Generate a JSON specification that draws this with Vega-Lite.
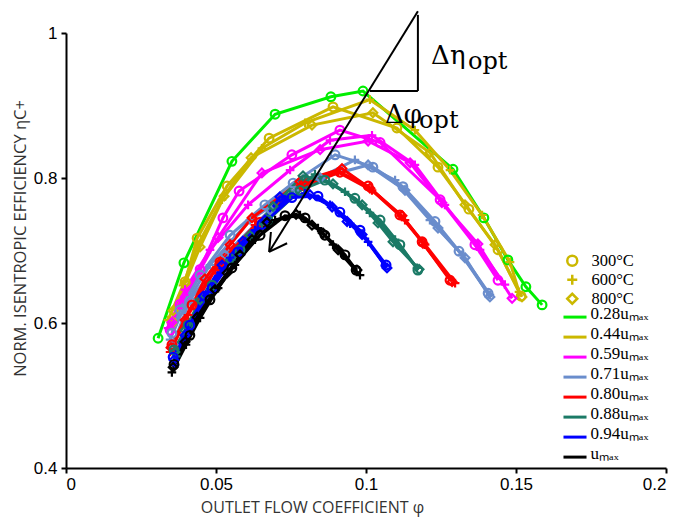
{
  "$schema": "https://vega.github.io/schema/vega-lite/v6.json",
  "width": 600,
  "height": 435,
  "autosize": {"type": "none"},
  "padding": {"left": 66, "top": 33, "right": 16, "bottom": 50},
  "background": "white",
  "config": {
    "view": {"stroke": null},
    "axis": {
      "grid": false,
      "domainColor": "black",
      "domainWidth": 2,
      "tickColor": "black",
      "tickWidth": 2,
      "tickSize": 5,
      "labelFont": "Liberation Sans",
      "labelFontSize": 17,
      "labelColor": "black",
      "titleFont": "Open Sans",
      "titleFontSize": 15,
      "titleFontWeight": "normal",
      "titleColor": "#333333"
    }
  },
  "datasets": {
    "pts": [
      {"s":"0.28uₘₐₓ","t":"300°C","x":0.0307,"y":0.579},{"s":"0.28uₘₐₓ","t":"300°C","x":0.0393,"y":0.683},{"s":"0.28uₘₐₓ","t":"300°C","x":0.0553,"y":0.823},{"s":"0.28uₘₐₓ","t":"300°C","x":0.0697,"y":0.888},{"s":"0.28uₘₐₓ","t":"300°C","x":0.0883,"y":0.912},{"s":"0.28uₘₐₓ","t":"300°C","x":0.099,"y":0.92},{"s":"0.28uₘₐₓ","t":"300°C","x":0.129,"y":0.812},{"s":"0.28uₘₐₓ","t":"300°C","x":0.1393,"y":0.745},{"s":"0.28uₘₐₓ","t":"300°C","x":0.1473,"y":0.687},{"s":"0.28uₘₐₓ","t":"300°C","x":0.1533,"y":0.65},{"s":"0.28uₘₐₓ","t":"300°C","x":0.1587,"y":0.625},

      {"s":"0.44uₘₐₓ","t":"300°C","x":0.0353,"y":0.601},{"s":"0.44uₘₐₓ","t":"300°C","x":0.0397,"y":0.657},{"s":"0.44uₘₐₓ","t":"300°C","x":0.0437,"y":0.717},{"s":"0.44uₘₐₓ","t":"300°C","x":0.0537,"y":0.789},{"s":"0.44uₘₐₓ","t":"300°C","x":0.0677,"y":0.855},{"s":"0.44uₘₐₓ","t":"300°C","x":0.089,"y":0.898},{"s":"0.44uₘₐₓ","t":"300°C","x":0.1103,"y":0.869},{"s":"0.44uₘₐₓ","t":"300°C","x":0.124,"y":0.815},{"s":"0.44uₘₐₓ","t":"300°C","x":0.1343,"y":0.757},{"s":"0.44uₘₐₓ","t":"300°C","x":0.144,"y":0.701},{"s":"0.44uₘₐₓ","t":"300°C","x":0.1517,"y":0.637},
      {"s":"0.44uₘₐₓ","t":"600°C","x":0.034,"y":0.604},{"s":"0.44uₘₐₓ","t":"600°C","x":0.039,"y":0.652},{"s":"0.44uₘₐₓ","t":"600°C","x":0.044,"y":0.708},{"s":"0.44uₘₐₓ","t":"600°C","x":0.052,"y":0.77},{"s":"0.44uₘₐₓ","t":"600°C","x":0.0653,"y":0.841},{"s":"0.44uₘₐₓ","t":"600°C","x":0.0797,"y":0.876},{"s":"0.44uₘₐₓ","t":"600°C","x":0.1013,"y":0.908},{"s":"0.44uₘₐₓ","t":"600°C","x":0.1163,"y":0.866},{"s":"0.44uₘₐₓ","t":"600°C","x":0.128,"y":0.811},{"s":"0.44uₘₐₓ","t":"600°C","x":0.1387,"y":0.749},{"s":"0.44uₘₐₓ","t":"600°C","x":0.148,"y":0.684},{"s":"0.44uₘₐₓ","t":"600°C","x":0.151,"y":0.643},
      {"s":"0.44uₘₐₓ","t":"800°C","x":0.0357,"y":0.617},{"s":"0.44uₘₐₓ","t":"800°C","x":0.0397,"y":0.655},{"s":"0.44uₘₐₓ","t":"800°C","x":0.0447,"y":0.705},{"s":"0.44uₘₐₓ","t":"800°C","x":0.0527,"y":0.775},{"s":"0.44uₘₐₓ","t":"800°C","x":0.0617,"y":0.828},{"s":"0.44uₘₐₓ","t":"800°C","x":0.082,"y":0.873},{"s":"0.44uₘₐₓ","t":"800°C","x":0.1023,"y":0.89},{"s":"0.44uₘₐₓ","t":"800°C","x":0.1213,"y":0.835},{"s":"0.44uₘₐₓ","t":"800°C","x":0.133,"y":0.763},{"s":"0.44uₘₐₓ","t":"800°C","x":0.143,"y":0.708},{"s":"0.44uₘₐₓ","t":"800°C","x":0.152,"y":0.636},

      {"s":"0.59uₘₐₓ","t":"300°C","x":0.0347,"y":0.59},{"s":"0.59uₘₐₓ","t":"300°C","x":0.038,"y":0.626},{"s":"0.59uₘₐₓ","t":"300°C","x":0.0447,"y":0.674},{"s":"0.59uₘₐₓ","t":"300°C","x":0.0523,"y":0.745},{"s":"0.59uₘₐₓ","t":"300°C","x":0.0577,"y":0.782},{"s":"0.59uₘₐₓ","t":"300°C","x":0.0753,"y":0.832},{"s":"0.59uₘₐₓ","t":"300°C","x":0.0913,"y":0.866},{"s":"0.59uₘₐₓ","t":"300°C","x":0.1047,"y":0.849},{"s":"0.59uₘₐₓ","t":"300°C","x":0.1247,"y":0.77},{"s":"0.59uₘₐₓ","t":"300°C","x":0.1363,"y":0.708},{"s":"0.59uₘₐₓ","t":"300°C","x":0.144,"y":0.659},
      {"s":"0.59uₘₐₓ","t":"600°C","x":0.034,"y":0.593},{"s":"0.59uₘₐₓ","t":"600°C","x":0.0397,"y":0.646},{"s":"0.59uₘₐₓ","t":"600°C","x":0.048,"y":0.701},{"s":"0.59uₘₐₓ","t":"600°C","x":0.0607,"y":0.763},{"s":"0.59uₘₐₓ","t":"600°C","x":0.0747,"y":0.811},{"s":"0.59uₘₐₓ","t":"600°C","x":0.088,"y":0.852},{"s":"0.59uₘₐₓ","t":"600°C","x":0.102,"y":0.859},{"s":"0.59uₘₐₓ","t":"600°C","x":0.1163,"y":0.818},{"s":"0.59uₘₐₓ","t":"600°C","x":0.1263,"y":0.763},{"s":"0.59uₘₐₓ","t":"600°C","x":0.138,"y":0.701},{"s":"0.59uₘₐₓ","t":"600°C","x":0.1463,"y":0.653},
      {"s":"0.59uₘₐₓ","t":"800°C","x":0.0353,"y":0.601},{"s":"0.59uₘₐₓ","t":"800°C","x":0.0397,"y":0.636},{"s":"0.59uₘₐₓ","t":"800°C","x":0.0507,"y":0.718},{"s":"0.59uₘₐₓ","t":"800°C","x":0.0653,"y":0.807},{"s":"0.59uₘₐₓ","t":"800°C","x":0.0847,"y":0.839},{"s":"0.59uₘₐₓ","t":"800°C","x":0.1007,"y":0.851},{"s":"0.59uₘₐₓ","t":"800°C","x":0.1147,"y":0.821},{"s":"0.59uₘₐₓ","t":"800°C","x":0.1253,"y":0.766},{"s":"0.59uₘₐₓ","t":"800°C","x":0.1373,"y":0.709},{"s":"0.59uₘₐₓ","t":"800°C","x":0.1487,"y":0.634},

      {"s":"0.71uₘₐₓ","t":"300°C","x":0.0353,"y":0.586},{"s":"0.71uₘₐₓ","t":"300°C","x":0.038,"y":0.618},{"s":"0.71uₘₐₓ","t":"300°C","x":0.0447,"y":0.666},{"s":"0.71uₘₐₓ","t":"300°C","x":0.0547,"y":0.721},{"s":"0.71uₘₐₓ","t":"300°C","x":0.0663,"y":0.763},{"s":"0.71uₘₐₓ","t":"300°C","x":0.0757,"y":0.793},{"s":"0.71uₘₐₓ","t":"300°C","x":0.0897,"y":0.832},{"s":"0.71uₘₐₓ","t":"300°C","x":0.1023,"y":0.815},{"s":"0.71uₘₐₓ","t":"300°C","x":0.1123,"y":0.788},{"s":"0.71uₘₐₓ","t":"300°C","x":0.123,"y":0.74},{"s":"0.71uₘₐₓ","t":"300°C","x":0.131,"y":0.699},{"s":"0.71uₘₐₓ","t":"300°C","x":0.1407,"y":0.641},
      {"s":"0.71uₘₐₓ","t":"600°C","x":0.0347,"y":0.577},{"s":"0.71uₘₐₓ","t":"600°C","x":0.0397,"y":0.625},{"s":"0.71uₘₐₓ","t":"600°C","x":0.048,"y":0.68},{"s":"0.71uₘₐₓ","t":"600°C","x":0.0613,"y":0.742},{"s":"0.71uₘₐₓ","t":"600°C","x":0.0763,"y":0.783},{"s":"0.71uₘₐₓ","t":"600°C","x":0.0963,"y":0.825},{"s":"0.71uₘₐₓ","t":"600°C","x":0.1097,"y":0.797},{"s":"0.71uₘₐₓ","t":"600°C","x":0.1213,"y":0.742},{"s":"0.71uₘₐₓ","t":"600°C","x":0.132,"y":0.694},{"s":"0.71uₘₐₓ","t":"600°C","x":0.1413,"y":0.639},
      {"s":"0.71uₘₐₓ","t":"800°C","x":0.0357,"y":0.57},{"s":"0.71uₘₐₓ","t":"800°C","x":0.0413,"y":0.632},{"s":"0.71uₘₐₓ","t":"800°C","x":0.053,"y":0.694},{"s":"0.71uₘₐₓ","t":"800°C","x":0.068,"y":0.756},{"s":"0.71uₘₐₓ","t":"800°C","x":0.0847,"y":0.8},{"s":"0.71uₘₐₓ","t":"800°C","x":0.1007,"y":0.818},{"s":"0.71uₘₐₓ","t":"800°C","x":0.113,"y":0.783},{"s":"0.71uₘₐₓ","t":"800°C","x":0.124,"y":0.731},{"s":"0.71uₘₐₓ","t":"800°C","x":0.133,"y":0.69},{"s":"0.71uₘₐₓ","t":"800°C","x":0.1413,"y":0.636},

      {"s":"0.80uₘₐₓ","t":"300°C","x":0.0353,"y":0.57},{"s":"0.80uₘₐₓ","t":"300°C","x":0.042,"y":0.625},{"s":"0.80uₘₐₓ","t":"300°C","x":0.0513,"y":0.684},{"s":"0.80uₘₐₓ","t":"300°C","x":0.0647,"y":0.739},{"s":"0.80uₘₐₓ","t":"300°C","x":0.0797,"y":0.789},{"s":"0.80uₘₐₓ","t":"300°C","x":0.0913,"y":0.808},{"s":"0.80uₘₐₓ","t":"300°C","x":0.1007,"y":0.789},{"s":"0.80uₘₐₓ","t":"300°C","x":0.1113,"y":0.749},{"s":"0.80uₘₐₓ","t":"300°C","x":0.1187,"y":0.712},{"s":"0.80uₘₐₓ","t":"300°C","x":0.128,"y":0.659},
      {"s":"0.80uₘₐₓ","t":"600°C","x":0.0347,"y":0.56},{"s":"0.80uₘₐₓ","t":"600°C","x":0.0407,"y":0.611},{"s":"0.80uₘₐₓ","t":"600°C","x":0.0497,"y":0.673},{"s":"0.80uₘₐₓ","t":"600°C","x":0.063,"y":0.735},{"s":"0.80uₘₐₓ","t":"600°C","x":0.078,"y":0.79},{"s":"0.80uₘₐₓ","t":"600°C","x":0.0907,"y":0.808},{"s":"0.80uₘₐₓ","t":"600°C","x":0.102,"y":0.783},{"s":"0.80uₘₐₓ","t":"600°C","x":0.113,"y":0.742},{"s":"0.80uₘₐₓ","t":"600°C","x":0.1197,"y":0.708},{"s":"0.80uₘₐₓ","t":"600°C","x":0.1297,"y":0.655},
      {"s":"0.80uₘₐₓ","t":"800°C","x":0.035,"y":0.566},{"s":"0.80uₘₐₓ","t":"800°C","x":0.0397,"y":0.604},{"s":"0.80uₘₐₓ","t":"800°C","x":0.0463,"y":0.661},{"s":"0.80uₘₐₓ","t":"800°C","x":0.0547,"y":0.708},{"s":"0.80uₘₐₓ","t":"800°C","x":0.062,"y":0.745},{"s":"0.80uₘₐₓ","t":"800°C","x":0.078,"y":0.795},{"s":"0.80uₘₐₓ","t":"800°C","x":0.092,"y":0.813},{"s":"0.80uₘₐₓ","t":"800°C","x":0.1013,"y":0.786},{"s":"0.80uₘₐₓ","t":"800°C","x":0.112,"y":0.748},{"s":"0.80uₘₐₓ","t":"800°C","x":0.119,"y":0.71},{"s":"0.80uₘₐₓ","t":"800°C","x":0.1287,"y":0.657},

      {"s":"0.88uₘₐₓ","t":"300°C","x":0.036,"y":0.563},{"s":"0.88uₘₐₓ","t":"300°C","x":0.0407,"y":0.597},{"s":"0.88uₘₐₓ","t":"300°C","x":0.0487,"y":0.652},{"s":"0.88uₘₐₓ","t":"300°C","x":0.058,"y":0.701},{"s":"0.88uₘₐₓ","t":"300°C","x":0.0673,"y":0.742},{"s":"0.88uₘₐₓ","t":"300°C","x":0.078,"y":0.783},{"s":"0.88uₘₐₓ","t":"300°C","x":0.0863,"y":0.797},{"s":"0.88uₘₐₓ","t":"300°C","x":0.0963,"y":0.772},{"s":"0.88uₘₐₓ","t":"300°C","x":0.1047,"y":0.742},{"s":"0.88uₘₐₓ","t":"300°C","x":0.1113,"y":0.708},{"s":"0.88uₘₐₓ","t":"300°C","x":0.1173,"y":0.673},
      {"s":"0.88uₘₐₓ","t":"600°C","x":0.0367,"y":0.554},{"s":"0.88uₘₐₓ","t":"600°C","x":0.0413,"y":0.601},{"s":"0.88uₘₐₓ","t":"600°C","x":0.048,"y":0.646},{"s":"0.88uₘₐₓ","t":"600°C","x":0.0563,"y":0.694},{"s":"0.88uₘₐₓ","t":"600°C","x":0.0653,"y":0.736},{"s":"0.88uₘₐₓ","t":"600°C","x":0.0747,"y":0.777},{"s":"0.88uₘₐₓ","t":"600°C","x":0.083,"y":0.805},{"s":"0.88uₘₐₓ","t":"600°C","x":0.093,"y":0.781},{"s":"0.88uₘₐₓ","t":"600°C","x":0.1013,"y":0.752},{"s":"0.88uₘₐₓ","t":"600°C","x":0.1097,"y":0.715},{"s":"0.88uₘₐₓ","t":"600°C","x":0.117,"y":0.676},
      {"s":"0.88uₘₐₓ","t":"800°C","x":0.0363,"y":0.56},{"s":"0.88uₘₐₓ","t":"800°C","x":0.0397,"y":0.59},{"s":"0.88uₘₐₓ","t":"800°C","x":0.0447,"y":0.632},{"s":"0.88uₘₐₓ","t":"800°C","x":0.0547,"y":0.687},{"s":"0.88uₘₐₓ","t":"800°C","x":0.0613,"y":0.721},{"s":"0.88uₘₐₓ","t":"800°C","x":0.069,"y":0.761},{"s":"0.88uₘₐₓ","t":"800°C","x":0.079,"y":0.803},{"s":"0.88uₘₐₓ","t":"800°C","x":0.089,"y":0.792},{"s":"0.88uₘₐₓ","t":"800°C","x":0.0987,"y":0.763},{"s":"0.88uₘₐₓ","t":"800°C","x":0.104,"y":0.738},{"s":"0.88uₘₐₓ","t":"800°C","x":0.109,"y":0.712},{"s":"0.88uₘₐₓ","t":"800°C","x":0.1177,"y":0.674},

      {"s":"0.94uₘₐₓ","t":"300°C","x":0.0357,"y":0.553},{"s":"0.94uₘₐₓ","t":"300°C","x":0.0413,"y":0.597},{"s":"0.94uₘₐₓ","t":"300°C","x":0.0487,"y":0.648},{"s":"0.94uₘₐₓ","t":"300°C","x":0.0573,"y":0.698},{"s":"0.94uₘₐₓ","t":"300°C","x":0.0653,"y":0.736},{"s":"0.94uₘₐₓ","t":"300°C","x":0.0753,"y":0.773},{"s":"0.94uₘₐₓ","t":"300°C","x":0.084,"y":0.775},{"s":"0.94uₘₐₓ","t":"300°C","x":0.0913,"y":0.753},{"s":"0.94uₘₐₓ","t":"300°C","x":0.098,"y":0.728},{"s":"0.94uₘₐₓ","t":"300°C","x":0.1067,"y":0.68},
      {"s":"0.94uₘₐₓ","t":"600°C","x":0.0363,"y":0.542},{"s":"0.94uₘₐₓ","t":"600°C","x":0.0407,"y":0.59},{"s":"0.94uₘₐₓ","t":"600°C","x":0.0473,"y":0.643},{"s":"0.94uₘₐₓ","t":"600°C","x":0.0547,"y":0.69},{"s":"0.94uₘₐₓ","t":"600°C","x":0.063,"y":0.728},{"s":"0.94uₘₐₓ","t":"600°C","x":0.073,"y":0.77},{"s":"0.94uₘₐₓ","t":"600°C","x":0.0797,"y":0.779},{"s":"0.94uₘₐₓ","t":"600°C","x":0.088,"y":0.763},{"s":"0.94uₘₐₓ","t":"600°C","x":0.0947,"y":0.737},{"s":"0.94uₘₐₓ","t":"600°C","x":0.1007,"y":0.712},{"s":"0.94uₘₐₓ","t":"600°C","x":0.1063,"y":0.679},
      {"s":"0.94uₘₐₓ","t":"800°C","x":0.036,"y":0.549},{"s":"0.94uₘₐₓ","t":"800°C","x":0.0397,"y":0.583},{"s":"0.94uₘₐₓ","t":"800°C","x":0.0457,"y":0.637},{"s":"0.94uₘₐₓ","t":"800°C","x":0.052,"y":0.68},{"s":"0.94uₘₐₓ","t":"800°C","x":0.059,"y":0.713},{"s":"0.94uₘₐₓ","t":"800°C","x":0.0663,"y":0.742},{"s":"0.94uₘₐₓ","t":"800°C","x":0.0713,"y":0.774},{"s":"0.94uₘₐₓ","t":"800°C","x":0.0813,"y":0.777},{"s":"0.94uₘₐₓ","t":"800°C","x":0.0887,"y":0.76},{"s":"0.94uₘₐₓ","t":"800°C","x":0.0937,"y":0.74},{"s":"0.94uₘₐₓ","t":"800°C","x":0.0987,"y":0.722},{"s":"0.94uₘₐₓ","t":"800°C","x":0.107,"y":0.676},

      {"s":"uₘₐₓ","t":"300°C","x":0.036,"y":0.543},{"s":"uₘₐₓ","t":"300°C","x":0.0413,"y":0.583},{"s":"uₘₐₓ","t":"300°C","x":0.048,"y":0.632},{"s":"uₘₐₓ","t":"300°C","x":0.0553,"y":0.676},{"s":"uₘₐₓ","t":"300°C","x":0.0647,"y":0.721},{"s":"uₘₐₓ","t":"300°C","x":0.073,"y":0.748},{"s":"uₘₐₓ","t":"300°C","x":0.0797,"y":0.745},{"s":"uₘₐₓ","t":"300°C","x":0.0863,"y":0.721},{"s":"uₘₐₓ","t":"300°C","x":0.093,"y":0.694},{"s":"uₘₐₓ","t":"300°C","x":0.0967,"y":0.673},
      {"s":"uₘₐₓ","t":"600°C","x":0.0353,"y":0.532},{"s":"uₘₐₓ","t":"600°C","x":0.04,"y":0.57},{"s":"uₘₐₓ","t":"600°C","x":0.0447,"y":0.607},{"s":"uₘₐₓ","t":"600°C","x":0.0507,"y":0.648},{"s":"uₘₐₓ","t":"600°C","x":0.0563,"y":0.68},{"s":"uₘₐₓ","t":"600°C","x":0.063,"y":0.715},{"s":"uₘₐₓ","t":"600°C","x":0.0697,"y":0.742},{"s":"uₘₐₓ","t":"600°C","x":0.078,"y":0.749},{"s":"uₘₐₓ","t":"600°C","x":0.084,"y":0.731},{"s":"uₘₐₓ","t":"600°C","x":0.089,"y":0.708},{"s":"uₘₐₓ","t":"600°C","x":0.098,"y":0.666},
      {"s":"uₘₐₓ","t":"800°C","x":0.0357,"y":0.539},{"s":"uₘₐₓ","t":"800°C","x":0.0397,"y":0.574},{"s":"uₘₐₓ","t":"800°C","x":0.0437,"y":0.608},{"s":"uₘₐₓ","t":"800°C","x":0.0497,"y":0.646},{"s":"uₘₐₓ","t":"800°C","x":0.0537,"y":0.669},{"s":"uₘₐₓ","t":"800°C","x":0.058,"y":0.694},{"s":"uₘₐₓ","t":"800°C","x":0.062,"y":0.715},{"s":"uₘₐₓ","t":"800°C","x":0.067,"y":0.739},{"s":"uₘₐₓ","t":"800°C","x":0.0767,"y":0.75},{"s":"uₘₐₓ","t":"800°C","x":0.082,"y":0.735},{"s":"uₘₐₓ","t":"800°C","x":0.0857,"y":0.724},{"s":"uₘₐₓ","t":"800°C","x":0.0907,"y":0.701},{"s":"uₘₐₓ","t":"800°C","x":0.097,"y":0.673}
    ],
    "segs": [
      {"x":0.1173,"y":1.03,"x2":0.0677,"y2":0.698},
      {"x":0.1173,"y":1.025,"x2":0.1173,"y2":0.92},
      {"x":0.1013,"y":0.92,"x2":0.1173,"y2":0.92},
      {"x":0.0677,"y":0.698,"x2":0.0683,"y2":0.7255},
      {"x":0.0677,"y":0.698,"x2":0.0737,"y2":0.71}
    ],
    "big": [
      {"txt":"Δη","x":0.1217,"y":0.957},
      {"txt":"Δφ","x":0.1063,"y":0.876}
    ],
    "sub": [
      {"txt":"opt","x":0.134,"y":0.95},
      {"txt":"opt","x":0.1177,"y":0.869}
    ]
  },
  "layer": [
    {
      "data": {"name": "pts"},
      "mark": {"type": "line", "strokeWidth": 3},
      "encoding": {
        "x": {"field": "x", "type": "quantitative", "scale": {"domain": [0, 0.2], "nice": false},
              "axis": {"values": [0, 0.05, 0.1, 0.15, 0.2], "format": "~g", "labelPadding": 3,
                       "title": "OUTLET FLOW COEFFICIENT φ", "titleX": 246, "titleY": 44, "titleBaseline": "alphabetic", "titleFontSize": 16}},
        "y": {"field": "y", "type": "quantitative", "scale": {"domain": [0.4, 1], "nice": false},
              "axis": {"values": [0.4, 0.6, 0.8, 1], "format": "~g", "labelPadding": 4,
                       "title": "NORM. ISENTROPIC EFFICIENCY ηC+", "titleX": -46, "titleY": 205, "titleAlign": "center", "titleBaseline": "middle", "titleFontSize": 16.5}},
        "color": {"field": "s", "type": "nominal",
                  "scale": {"domain": ["0.28uₘₐₓ","0.44uₘₐₓ","0.59uₘₐₓ","0.71uₘₐₓ","0.80uₘₐₓ","0.88uₘₐₓ","0.94uₘₐₓ","uₘₐₓ"],
                            "range": ["#00ee00","#cbb800","#ff00ff","#6a8dcc","#ff0000","#1b7a66","#0000ff","#000000"]},
                  "legend": {"orient": "none", "legendX": 499.5, "legendY": 271, "title": null, "padding": 0,
                             "symbolType": "M-1.44,0.45H1.44", "symbolSize": 256, "symbolStrokeWidth": 3,
                             "labelFont": "Liberation Serif", "labelFontSize": 17, "labelColor": "black", "labelOffset": 6, "rowPadding": 0}},
        "detail": {"field": "t", "type": "nominal"},
        "strokeWidth": {"condition": {"test": "datum.s === '0.28uₘₐₓ'", "value": 2}, "value": 3}
      }
    },
    {
      "data": {"name": "pts"},
      "mark": {"type": "point", "filled": false, "strokeWidth": 2.2, "size": 75, "opacity": 1},
      "encoding": {
        "x": {"field": "x", "type": "quantitative"},
        "y": {"field": "y", "type": "quantitative"},
        "color": {"field": "s", "type": "nominal",
                  "legend": {"orient": "none", "legendX": 499.5, "legendY": 271, "title": null, "padding": 0,
                             "symbolType": "M-1.44,0.45H1.44", "symbolSize": 256, "symbolStrokeWidth": 3,
                             "labelFont": "Liberation Serif", "labelFontSize": 17, "labelColor": "black", "labelOffset": 6, "rowPadding": 0}},
        "shape": {"field": "t", "type": "nominal",
                  "scale": {"domain": ["300°C","600°C","800°C"], "range": ["circle","M-1,0H1M0,-1V1","diamond"]},
                  "legend": {"orient": "none", "legendX": 498, "legendY": 219.5, "title": null, "padding": 0,
                             "symbolSize": 100, "symbolStrokeWidth": 2.5, "symbolStrokeColor": "#cbb800", "symbolFillColor": "transparent",
                             "labelFont": "Liberation Serif", "labelFontSize": 16.5, "labelColor": "black", "labelOffset": 11, "rowPadding": -3}}
      }
    },
    {
      "data": {"name": "segs"},
      "mark": {"type": "rule", "color": "black", "strokeWidth": 2, "clip": false},
      "encoding": {
        "x": {"field": "x", "type": "quantitative"},
        "y": {"field": "y", "type": "quantitative"},
        "x2": {"field": "x2"},
        "y2": {"field": "y2"}
      }
    },
    {
      "data": {"name": "big"},
      "mark": {"type": "text", "font": "DejaVu Serif", "fontSize": 26, "align": "left", "baseline": "alphabetic", "color": "black"},
      "encoding": {
        "x": {"field": "x", "type": "quantitative"},
        "y": {"field": "y", "type": "quantitative"},
        "text": {"field": "txt"}
      }
    },
    {
      "data": {"name": "sub"},
      "mark": {"type": "text", "font": "DejaVu Serif", "fontSize": 24, "align": "left", "baseline": "alphabetic", "color": "black"},
      "encoding": {
        "x": {"field": "x", "type": "quantitative"},
        "y": {"field": "y", "type": "quantitative"},
        "text": {"field": "txt"}
      }
    }
  ]
}
